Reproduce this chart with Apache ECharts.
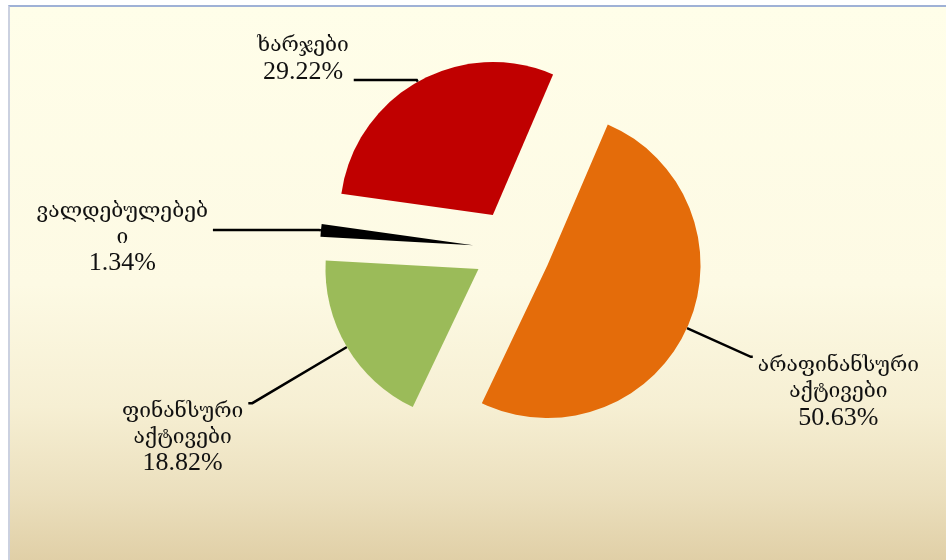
<!DOCTYPE html>
<html>
<head>
<meta charset="utf-8">
<script src="https://cdn.jsdelivr.net/npm/echarts@6/dist/echarts.min.js"></script>
<style>
html, body { margin: 0; padding: 0; background: #fff; }
#frame {
    position: absolute; left: 8px; top: 5px; width: 936px; height: 555px;
    border-top: 2px solid #9fb1d6; border-left: 2px solid #cbd1e0;
    background: linear-gradient(to bottom, #fffee9 0%, #fdfae4 50%, #f6efd3 72%, #ebdfbd 88%, #e0cfa6 100%);
}
#chart { position: absolute; left: 0; top: 0; width: 952px; height: 560px; }
</style>
</head>
<body>
<div id="frame"></div>
<div id="chart"></div>
<script>
'use strict';

// მონაცემები
var names = ['ხარჯები', 'არაფინანსური\nაქტივები', 'ფინანსური\nაქტივები', 'ვალდებულებებ\nი'];
var values = [29.22, 50.63, 18.82, 1.34];
var colors = ['#c00000', '#e46c0a', '#9bbb59', '#000000'];

// label line lengths / text shift for each slice
var lineLen = [2, 70, 110, 2];
var lineLen2 = [63, 2, 4, 106];
var labelPad = [[0, 0, 42, 0], [70, 0, 0, 0], [68, 0, 0, 0], [14, 0, 0, 0]];

var chart = echarts.init(document.getElementById('chart'));

var data = names.map(function(name, i) {
    return {
        name: name,
        value: values[i],
        selected: true,
        itemStyle: { color: colors[i] },
        label: { padding: labelPad[i] },
        labelLine: { length: lineLen[i], length2: lineLen2[i] }
    };
});

function labelText(p) {
    var lines = p.name.split('\n').map(function(s) { return '{g|' + s + '}'; });
    lines.push('{n|' + p.value.toFixed(2) + '%}');
    return lines.join('\n');
}

chart.setOption({
    animation: false,
    backgroundColor: 'transparent',
    series: [{
        type: 'pie',
        center: [512, 249],
        radius: 153,
        startAngle: 172,
        clockwise: true,
        selectedMode: 'multiple',
        selectedOffset: 39,
        avoidLabelOverlap: false,
        emphasis: { disabled: true },
        label: {
            show: true,
            position: 'outside',
            formatter: labelText,
            color: '#111',
            rich: {
                g: { fontFamily: 'DejaVu Serif', fontSize: 21, lineHeight: 26, align: 'center', color: '#111' },
                n: { fontFamily: 'Liberation Serif', fontSize: 26, lineHeight: 26, align: 'center', color: '#111' }
            }
        },
        labelLine: {
            show: true,
            smooth: false,
            lineStyle: { color: '#000', width: 2.5 }
        },
        data: data
    }]
});
</script>
</body>
</html>
